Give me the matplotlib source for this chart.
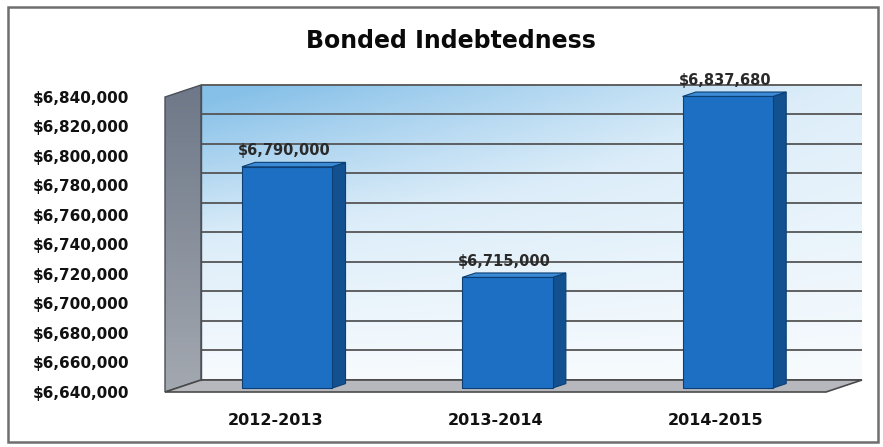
import numpy as np
import matplotlib
matplotlib.use('Agg')
import matplotlib.pyplot as plt
from matplotlib.patches import Polygon, Rectangle
from matplotlib.colors import LinearSegmentedColormap
from matplotlib.ticker import FuncFormatter

years = ['2012-2013', '2013-2014', '2014-2015']
debt = [6790000, 6715000, 6837680]
y_ticks = list(range(6640000, 6840001, 20000))

W, H = 883, 447
fig = plt.figure(figsize=(W / 100, H / 100), dpi=100)
fig.patch.set_facecolor('white')

# front plane of the 3d box, in pixels
L, R, B, T = 165, 826, 55, 350
ax = fig.add_axes([L / W, B / H, (R - L) / W, (T - B) / H])
ax.set_xlim(-0.5, 2.5)
ax.set_ylim(6640000, 6840000)
x0, x1 = ax.get_xlim()
y0, y1 = ax.get_ylim()

# depth of the box (36px right, 12px up) in data units
ddx = 36 / ((R - L) / (x1 - x0))
ddy = 12 / ((T - B) / (y1 - y0))

# back wall, blue fading to white
gy, gx = np.mgrid[0:1:200j, 0:1:200j]
grad = np.clip(gy * (1 - 0.55 * gx) + 0.05, 0, 1)
wall_cmap = LinearSegmentedColormap.from_list('wall', ['#f7fbfe', '#dcedf9', '#86c0e8'])
ax.imshow(grad, extent=(x0 + ddx, x1 + ddx, y0 + ddy, y1 + ddy), origin='lower',
          aspect='auto', cmap=wall_cmap, zorder=0, clip_on=False)

# gridlines on the back wall
ax.hlines(np.array(y_ticks) + ddy, x0 + ddx, x1 + ddx, colors='#555555', lw=1.3,
          zorder=1, clip_on=False)

# left side wall
side = Polygon([(x0, y0), (x0 + ddx, y0 + ddy), (x0 + ddx, y1 + ddy), (x0, y1)],
               closed=True, facecolor='none', edgecolor='#4a4f58', lw=1.0, zorder=2,
               clip_on=False)
ax.add_patch(side)
sg = np.linspace(0, 1, 100).reshape(-1, 1)
side_cmap = LinearSegmentedColormap.from_list('side', ['#a3a8b0', '#6e7888'])
im = ax.imshow(sg, extent=(x0, x0 + ddx, y0, y1 + ddy), origin='lower', aspect='auto',
               cmap=side_cmap, zorder=1.5)
im.set_clip_box(fig.bbox)
im.set_clip_path(side)

# floor
floor = Polygon([(x0, y0), (x1, y0), (x1 + ddx, y0 + ddy), (x0 + ddx, y0 + ddy)],
                closed=True, facecolor='#b7b7be', edgecolor='#4a4a4a', lw=1.2, zorder=2,
                clip_on=False)
ax.add_patch(floor)
ax.plot([x0 + ddx, x0 + ddx], [y0 + ddy, y1 + ddy], color='#4a4f58', lw=1.0,
        zorder=2, clip_on=False)

ax.set_xlim(x0, x1)
ax.set_ylim(y0, y1)

# 3d columns
x = np.arange(len(years))
vals = np.array(debt)
w = 0.41
f1, f2 = 0.33, 0.70
bx1, by1 = f1 * ddx, f1 * ddy
bx2, by2 = f2 * ddx, f2 * ddy
ax.bar(x + bx1, vals - y0, bottom=y0 + by1, width=w, color='#1c6fc2',
       edgecolor='#0b3f75', lw=0.8, zorder=5, clip_on=False)
for xi, v in zip(x, vals):
    xr = xi + w / 2
    xl = xi - w / 2
    ax.add_patch(Polygon([(xr + bx1, y0 + by1), (xr + bx2, y0 + by2),
                          (xr + bx2, v + by2), (xr + bx1, v + by1)], closed=True,
                         facecolor='#13508f', edgecolor='#0b3f75', lw=0.8, zorder=4,
                         clip_on=False))
    ax.add_patch(Polygon([(xl + bx1, v + by1), (xr + bx1, v + by1),
                          (xr + bx2, v + by2), (xl + bx2, v + by2)], closed=True,
                         facecolor='#3c8bd6', edgecolor='#0b3f75', lw=0.8, zorder=4,
                         clip_on=False))
    ax.annotate('${:,}'.format(v), (xi, v), xytext=(9, 20), textcoords='offset pixels',
                ha='center', va='center', fontsize=10.5, fontweight='bold',
                color='#2a2a2a', zorder=6)

# axes text
ax.set_yticks(y_ticks)
ax.yaxis.set_major_formatter(FuncFormatter(lambda v, p: '${:,.0f}'.format(v)))
ax.set_xticks(x)
ax.set_xticklabels(years)
ax.tick_params(axis='y', length=0, pad=26, labelsize=11, labelcolor='#111111')
ax.tick_params(axis='x', length=0, pad=15, labelsize=11.5, labelcolor='#111111')
for lab in ax.get_yticklabels() + ax.get_xticklabels():
    lab.set_fontweight('heavy')
for s in ax.spines.values():
    s.set_visible(False)
ax.set_facecolor('none')

fig.text(451 / W, 1 - 41 / H, 'Bonded Indebtedness', ha='center', va='center',
         fontsize=17, fontweight='heavy', color='#0a0a0a')

# outer chart border
fig.patches.append(Rectangle((8 / W, 5 / H), 870 / W, 435 / H, transform=fig.transFigure,
                             fill=False, edgecolor='#6f6f6f', lw=1.8))

fig.savefig('out.png', dpi=100)
